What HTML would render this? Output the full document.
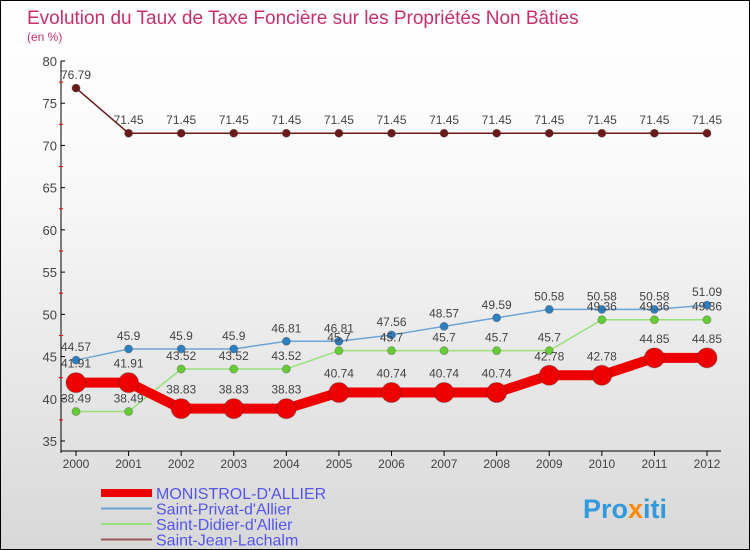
<!DOCTYPE html>
<html><head><meta charset="utf-8"><style>
body{margin:0}
#c{position:relative;width:748px;height:548px;border:1px solid #000;background:linear-gradient(#fff,#fafafa 30%,#d8d8d8);font-family:"Liberation Sans",sans-serif;overflow:hidden}
</style></head><body>
<div id="c">
<svg id="s" width="748" height="548" style="position:absolute;left:0;top:0">
<text x="26" y="23" font-size="19" fill="#c8306a">Evolution du Taux de Taxe Foncière sur les Propriétés Non Bâties</text>
<text x="26" y="40" font-size="12" fill="#c8306a">(en %)</text>
<g id="axes"></g><g id="series"></g><g id="legend"></g>
<text x="582" y="517" font-size="27" font-weight="bold" fill="#3399dd">Pro<tspan fill="#ff8800">x</tspan>iti</text>
</svg>
</div>
<script>
const years=[2000,2001,2002,2003,2004,2005,2006,2007,2008,2009,2010,2011,2012];
const monistrol=[41.91,41.91,38.83,38.83,38.83,40.74,40.74,40.74,40.74,42.78,42.78,44.85,44.85];
const privat=[44.57,45.9,45.9,45.9,46.81,46.81,47.56,48.57,49.59,50.58,50.58,50.58,51.09];
const didier=[38.49,38.49,43.52,43.52,43.52,45.7,45.7,45.7,45.7,45.7,49.36,49.36,49.36];
const jean=[76.79,71.45,71.45,71.45,71.45,71.45,71.45,71.45,71.45,71.45,71.45,71.45,71.45];
const yTicks=[35,40,45,50,55,60,65,70,75,80];
const names=["MONISTROL-D'ALLIER","Saint-Privat-d'Allier","Saint-Didier-d'Allier","Saint-Jean-Lachalm"];
const NS="http://www.w3.org/2000/svg";
const X=i=>75+i*(706-75)/(years.length-1);
const Y=v=>440-(v-35)*380/45;
function mk(p,t,a){const e=document.createElementNS(NS,t);for(const k in a)e.setAttribute(k,a[k]);p.appendChild(e);return e;}
const ax=document.getElementById('axes');
let e=mk(ax,'line',{x1:60,y1:60,x2:60,y2:452,stroke:'#000'});


e=mk(ax,'line',{x1:60,y1:450,x2:720,y2:450,stroke:'#000'});


yTicks.forEach(v=>{mk(ax,'line',{x1:60,y1:Y(v),x2:64,y2:Y(v),stroke:'#000'});
 if(v<80)mk(ax,'line',{x1:58,y1:Y(v+2.5),x2:62,y2:Y(v+2.5),stroke:'#e00'});
 const t=mk(ax,'text',{x:56,y:Y(v)+5,'font-size':13,fill:'#444','text-anchor':'end'});t.textContent=v;
 
 });
years.forEach((yr,i)=>{mk(ax,'line',{x1:X(i),y1:450,x2:X(i),y2:455,stroke:'#000'});
 const t=mk(ax,'text',{x:X(i),y:467,'font-size':12,fill:'#444','text-anchor':'middle'});t.textContent=yr;
 
 });
const sg=document.getElementById('series');
const defs=[[jean,'#6b1a1a','#6b1a1a',1.5,4,'saint-jean'],[privat,'#6aa5d8','#2e7fc0',1.5,4,'saint-privat'],[didier,'#99e07a','#66cc33',1.5,4,'saint-didier'],[monistrol,'#ee0000','#ee0000',10,10,'monistrol']];
defs.forEach(([d,lc,pc,w,r,n])=>{
 const g=mk(sg,'g',{});
 
 
 const l=mk(g,'polyline',{points:d.map((v,i)=>X(i)+','+Y(v)).join(' '),fill:'none',stroke:lc,'stroke-width':w});
 
 
 d.forEach((v,i)=>{const c=mk(g,'circle',{cx:X(i),cy:Y(v),r:r,fill:pc,stroke:'#333','stroke-opacity':0.3});
  
  
  const t=mk(g,'text',{x:X(i),y:Y(v)-(r+5),'font-size':12,fill:'#444','text-anchor':'middle'});t.textContent=v;
  
  });
});
const lg=document.getElementById('legend');
const lcol=['#ee0000','#6aa5d8','#99e07a','#9b5a5a'],lw=[8,2,2,2];
names.forEach((n,i)=>{const y=492+i*15.5;
 const g=mk(lg,'g',{});
 
 
 mk(g,'line',{x1:100,y1:y,x2:151,y2:y,stroke:lcol[i],'stroke-width':lw[i]});
 const t=mk(g,'text',{x:155,y:y+6,'font-size':16,fill:'#5555ee'});t.textContent=n;});
</script>
</body></html>
